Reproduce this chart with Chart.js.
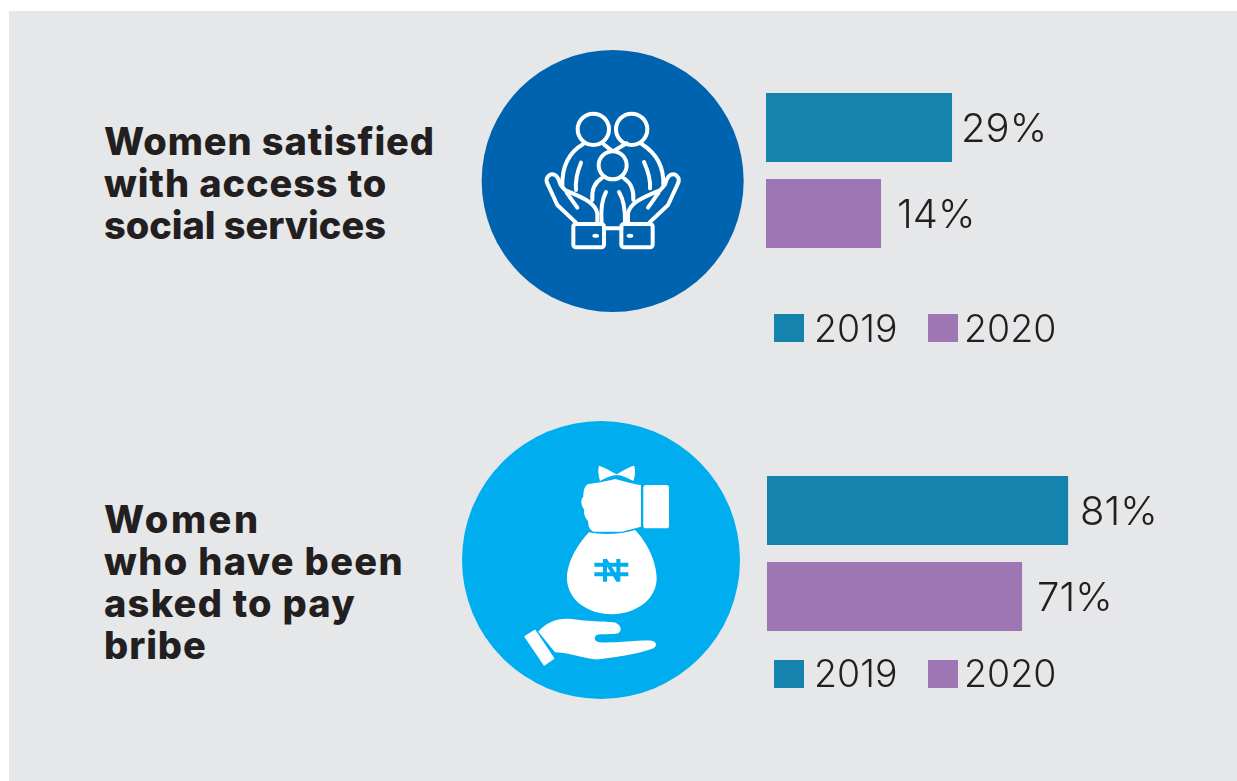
<!DOCTYPE html>
<html lang="en">
<head>
<meta charset="utf-8">
<title>Women satisfied with access to social services; women asked to pay bribe</title>
<script src="https://cdn.jsdelivr.net/npm/chart.js@4"></script>
<style>
  html, body { margin: 0; padding: 0; background: #fff; width: 1237px; height: 781px; overflow: hidden; }
  #panel { position: absolute; left: 9px; top: 11px; width: 1228px; height: 770px; background: #E6E7E9; }
  .heading { position: absolute; left: 104px; margin: 0; color: #231F20; font: 800 38px/42px Inter, sans-serif; letter-spacing: .9px; white-space: pre; }
  .badge { position: absolute; display: block; }
  .plot { position: absolute; }
</style>
</head>
<body>
<div id="panel"></div>

<h2 class="heading" style="top:120px">Women satisfied
with access to
<span style="letter-spacing:-.05px">social services</span></h2>
<h2 class="heading" style="top:498px"><span style="letter-spacing:2.5px">Women</span>
<span style="letter-spacing:1.35px">who have been</span>
<span style="letter-spacing:1.25px">asked to pay</span>
bribe</h2>

<!-- Family held in two hands -->
<svg class="badge" style="left:470px;top:40px" width="290" height="280" viewBox="0 0 870 840">
  <circle cx="428" cy="423" r="393" fill="#0063AF"/>
  <g fill="none" stroke="#fff" stroke-width="12" stroke-linecap="round" stroke-linejoin="round">
    <circle cx="370" cy="268" r="47"/>
    <circle cx="485" cy="268" r="47"/>
    <circle cx="428" cy="376" r="42"/>
    <path d="M340 312C300 335 275 375 277 440M400 312L425 332M515 312C560 340 582 380 580 435M470 310L432 332"/>
    <path d="M333 368C322 395 315 420 318 450M522 366C535 395 542 420 540 445"/>
    <path d="M395 415C370 430 365 455 367 480M462 415C485 430 492 450 490 480"/>
    <path d="M408 456C395 480 392 510 395 548M447 456C462 480 466 510 465 548"/>
    <path d="M318 548L262 495L232 430C224 412 240 398 255 405C265 410 268 425 272 435L285 450C330 470 375 485 382 520L382 548"/>
    <path d="M538 548L594 495L624 430C632 412 616 398 601 405C591 410 588 425 584 435L571 450C526 470 481 485 474 520L474 548"/>
    <path d="M290 458L322 503M566 458L534 503"/>
    <rect x="310" y="552" width="92" height="70" rx="8"/>
    <rect x="454" y="552" width="94" height="70" rx="8"/>
    <path d="M402 565H454"/>
  </g>
  <ellipse cx="377" cy="587" rx="10" ry="6" fill="#fff"/>
  <ellipse cx="480" cy="587" rx="10" ry="6" fill="#fff"/>
</svg>

<!-- Fist passing a naira bag to an open hand -->
<svg class="badge" style="left:455px;top:415px" width="290" height="290" viewBox="0 0 870 870">
  <circle cx="438" cy="435" r="417" fill="#00AEEF"/>
  <g fill="#fff">
    <path d="M432 152C450 158 470 170 485 178C500 170 520 155 538 152C542 170 540 185 535 198C520 190 500 180 485 180C465 182 450 190 435 198C430 180 428 165 432 152Z"/>
    <path d="M400 207C420 205 450 200 480 192C505 198 535 208 558 210L558 335C540 340 520 345 500 350L415 350C405 345 398 335 400 320C390 310 385 295 388 285C378 270 375 255 385 245C385 225 390 210 400 207Z"/>
    <rect x="565" y="210" width="77" height="130" rx="8"/>
    <path d="M402 352C440 360 500 358 540 345C575 380 605 440 605 490C605 555 540 598 470 598C400 598 336 555 336 490C336 440 370 385 402 352Z"/>
    <path d="M210 665L240 646L296 730L268 750Z" stroke="#fff" stroke-width="4" stroke-linejoin="round"/>
    <path d="M250 650C275 620 310 608 350 612C400 620 440 618 475 622C495 625 505 645 490 655C470 660 440 655 425 660C415 668 418 680 435 682C480 685 550 675 590 677C605 680 608 692 595 700C560 715 480 728 430 733C395 735 360 715 300 712Z"/>
  </g>
  <path d="M450 432V500M490 432V500M450 434L490 498M418 449H520M418 478H520" fill="none" stroke="#00AEEF" stroke-width="12"/>
</svg>

<canvas id="servicesChart" class="plot" style="left:766px;top:70px"></canvas>
<canvas id="bribeChart" class="plot" style="left:767px;top:462px"></canvas>

<script>
const categories = ['Women'];
const seriesYears = ['2019', '2020'];
const seriesColors = ['#1682AE', '#9F76B4'];
const servicesValues = [[29], [14]];
const bribeValues = [[81], [71]];
// The two panels use their own truncated value ranges.
const servicesRange = [-10.3, 89.2];
const bribeRange = [15.57, 117.7];

const INK = '#231F20';
const LIGHT_FONT = 'Inter, sans-serif';

// Percentage written just past the end of each bar.
const valueLabels = {
  id: 'valueLabels',
  afterDatasetsDraw(chart, _args, opts) {
    const { ctx } = chart;
    ctx.save();
    ctx.fillStyle = INK;
    ctx.font = `300 40px ${LIGHT_FONT}`;
    ctx.textBaseline = 'middle';
    ctx.textAlign = 'left';
    chart.data.datasets.forEach((ds, i) => {
      chart.getDatasetMeta(i).data.forEach((bar, j) => {
        ctx.fillText(ds.data[j] + '%', bar.x + opts.gaps[i], bar.y + 2.5);
      });
    });
    ctx.restore();
  }
};

// Year key below the bars: square swatch followed by the dataset label.
const yearKey = {
  id: 'yearKey',
  afterDraw(chart, _args, opts) {
    const { ctx } = chart;
    ctx.save();
    ctx.font = `300 37.5px ${LIGHT_FONT}`;
    ctx.textBaseline = 'middle';
    ctx.textAlign = 'left';
    chart.data.datasets.forEach((ds, i) => {
      ctx.fillStyle = ds.backgroundColor;
      ctx.fillRect(opts.swatchX[i], opts.top, 30, 28);
      ctx.fillStyle = INK;
      ctx.fillText(ds.label, opts.textX[i], opts.top + opts.textDrop);
    });
    ctx.restore();
  }
};

function buildChart(id, width, height, padding, values, range, gaps, keyTop, keyShift, textDrop) {
  const canvas = document.getElementById(id);
  canvas.width = width;
  canvas.height = height;
  canvas.style.width = width + 'px';
  canvas.style.height = height + 'px';
  return new Chart(canvas, {
    type: 'bar',
    data: {
      labels: categories,
      datasets: seriesYears.map((year, i) => ({
        label: year,
        data: values[i],
        backgroundColor: seriesColors[i],
        base: range[0],
        categoryPercentage: 1,
        barPercentage: 69 / 86
      }))
    },
    options: {
      indexAxis: 'y',
      responsive: false,
      animation: false,
      layout: { padding: padding },
      scales: {
        x: { display: false, min: range[0], max: range[1] },
        y: { display: false }
      },
      plugins: {
        legend: { display: false },
        tooltip: { enabled: false },
        valueLabels: { gaps: gaps },
        yearKey: {
          top: keyTop,
          textDrop: textDrop,
          swatchX: [8 - keyShift, 162 - keyShift],
          textX: [48 - keyShift, 198 - keyShift]
        }
      }
    },
    plugins: [valueLabels, yearKey]
  });
}

buildChart('servicesChart', 471, 290, { top: 14.5, bottom: 103.5 }, servicesValues, servicesRange, [9, 16], 244, 0, 16.5);
buildChart('bribeChart', 470, 240, { top: 5.5, bottom: 62.5 }, bribeValues, bribeRange, [12, 15], 198, 1, 15.5);
</script>
</body>
</html>
